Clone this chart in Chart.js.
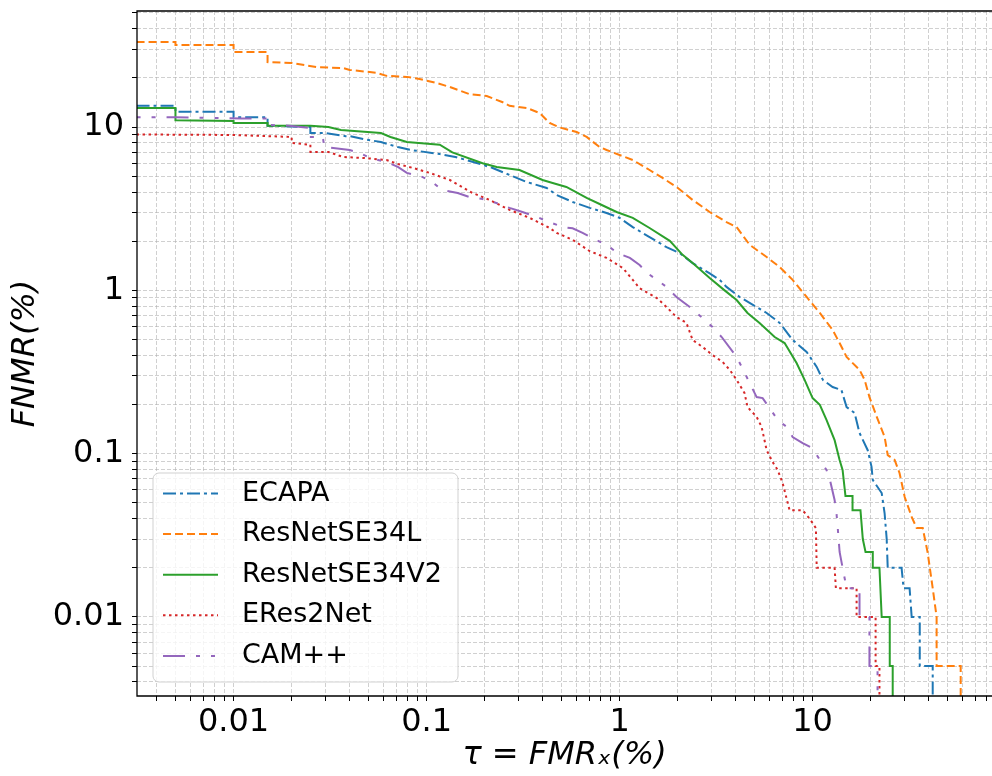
<!DOCTYPE html>
<html>
<head>
<meta charset="utf-8">
<script src="https://cdn.jsdelivr.net/npm/chart.js@4.4.0/dist/chart.umd.min.js"></script>
<style>
  html, body { margin: 0; padding: 0; background: #fff; }
  #wrap { width: 992px; height: 776px; }
</style>
</head>
<body>
<div id="wrap"><canvas id="det" width="992" height="776"></canvas></div>
<script>
// =================================================================
// DATA (FMR %, FNMR %)
// =================================================================
const seriesNames = ['ECAPA', 'ResNetSE34L', 'ResNetSE34V2', 'ERes2Net', 'CAM++'];

const ecapa = [[0.001,13.5],[0.005,13.5],[0.005,12.4],[0.01,12.4],[0.01,11.5],[0.015,11.5],[0.015,10.2],[0.025,10.0],[0.025,9.2],[0.030,9.2],[0.038,8.8],[0.040,8.8],[0.047,8.45],[0.058,8.1],[0.071,7.55],[0.083,7.24],[0.117,6.84],[0.141,6.56],[0.182,6.03],[0.22,5.62],[0.269,5.09],[0.33,4.61],[0.419,4.24],[0.472,3.84],[0.571,3.48],[0.70,3.20],[0.856,2.98],[1.0,2.78],[1.17,2.44],[1.43,2.12],[1.75,1.84],[2.05,1.69],[2.39,1.47],[2.93,1.27],[3.30,1.16],[3.58,1.05],[4.19,0.911],[5.78,0.727],[6.75,0.632],[7.88,0.497],[9.31,0.42],[10.5,0.34],[11.3,0.283],[12.7,0.256],[14.1,0.2455],[15.0,0.193],[16.5,0.1775],[17.5,0.134],[19.3,0.105],[20.2,0.083],[20.5,0.069],[22.8,0.0574],[23.6,0.0433],[24.2,0.03],[24.5,0.02],[28.9,0.02],[29.6,0.015],[31.8,0.015],[32.6,0.01],[35.9,0.01],[35.9,0.005],[41.9,0.005],[41.9,0.001]];

const resnetL = [[0.001,33.2],[0.005,33.2],[0.005,31.8],[0.01,31.8],[0.01,28.8],[0.015,28.8],[0.015,25.0],[0.020,24.7],[0.027,23.3],[0.037,23.0],[0.040,22.4],[0.055,21.5],[0.062,20.6],[0.079,20.3],[0.092,19.7],[0.113,18.6],[0.132,17.6],[0.167,15.9],[0.205,15.5],[0.248,14.2],[0.269,13.5],[0.330,13.1],[0.385,12.2],[0.434,10.6],[0.489,9.95],[0.599,9.33],[0.675,8.70],[0.788,7.55],[0.856,7.24],[1.0,6.75],[1.17,6.29],[1.43,5.46],[1.67,4.88],[1.97,4.30],[2.39,3.58],[2.93,3.02],[3.58,2.62],[4.04,2.44],[4.72,1.90],[5.78,1.60],[6.75,1.39],[7.88,1.16],[9.31,0.911],[10.9,0.727],[12.7,0.572],[13.8,0.476],[15.0,0.391],[17.5,0.326],[18.6,0.283],[19.7,0.222],[21.5,0.168],[23.6,0.127],[24.5,0.098],[26.6,0.0915],[28.2,0.0762],[30.0,0.0543],[32.6,0.041],[34.6,0.035],[37.2,0.035],[39.4,0.025],[41.9,0.015],[43.9,0.01],[43.9,0.005],[58.5,0.005],[58.5,0.001]];

const resnetV2 = [[0.001,13.1],[0.005,13.1],[0.005,11.0],[0.01,10.9],[0.01,10.6],[0.015,10.6],[0.015,10.2],[0.025,10.2],[0.031,10.0],[0.036,9.6],[0.058,9.2],[0.065,8.7],[0.079,8.1],[0.117,7.8],[0.136,7.0],[0.195,6.0],[0.231,5.7],[0.303,5.46],[0.399,4.74],[0.45,4.55],[0.53,4.30],[0.675,3.68],[0.788,3.38],[0.965,3.02],[1.17,2.78],[1.43,2.41],[1.82,2.01],[2.12,1.65],[2.39,1.47],[2.93,1.19],[3.50,1.0],[4.04,0.873],[4.6,0.727],[5.31,0.632],[6.36,0.518],[7.16,0.476],[8.26,0.359],[9.09,0.283],[10.0,0.219],[10.9,0.199],[11.8,0.161],[13.0,0.121],[13.8,0.0915],[14.3,0.0795],[14.8,0.055],[16.1,0.055],[16.1,0.045],[17.7,0.045],[18.2,0.03],[18.8,0.025],[20.5,0.025],[20.5,0.02],[22.2,0.02],[22.8,0.01],[25.1,0.01],[25.1,0.005],[26.0,0.005],[26.0,0.001]];

const eres2net = [[0.001,9.07],[0.01,8.95],[0.02,8.7],[0.02,8.0],[0.025,7.8],[0.025,7.04],[0.031,7.04],[0.037,6.56],[0.047,6.47],[0.062,6.29],[0.071,5.94],[0.085,5.62],[0.104,5.24],[0.132,4.74],[0.173,3.95],[0.212,3.58],[0.269,3.11],[0.342,2.78],[0.434,2.41],[0.472,2.25],[0.571,2.04],[0.70,1.74],[0.856,1.58],[1.04,1.37],[1.17,1.16],[1.27,1.03],[1.56,0.898],[1.75,0.791],[1.97,0.687],[2.22,0.632],[2.39,0.497],[2.69,0.45],[3.03,0.402],[3.42,0.364],[3.72,0.326],[4.04,0.283],[4.44,0.235],[4.6,0.193],[5.13,0.168],[5.44,0.146],[5.78,0.105],[6.2,0.089],[6.59,0.0795],[6.99,0.0662],[7.6,0.045],[8.88,0.045],[9.65,0.04],[10.4,0.035],[10.5,0.02],[13.0,0.02],[13.2,0.015],[16.9,0.015],[16.9,0.01],[21.2,0.01],[21.2,0.005],[22.2,0.005],[22.2,0.001]];

const campp = [[0.001,11.5],[0.005,11.5],[0.011,11.3],[0.015,11.3],[0.015,10.3],[0.0195,10.2],[0.0248,9.87],[0.0248,8.7],[0.029,8.7],[0.0295,7.55],[0.040,7.24],[0.045,6.94],[0.051,6.47],[0.062,6.11],[0.071,5.70],[0.079,5.24],[0.095,4.95],[0.107,4.61],[0.12,4.12],[0.145,3.95],[0.167,3.73],[0.195,3.63],[0.23,3.43],[0.269,3.20],[0.314,3.02],[0.372,2.82],[0.419,2.66],[0.507,2.44],[0.571,2.40],[0.643,2.25],[0.76,2.03],[0.856,1.90],[0.976,1.69],[1.13,1.58],[1.27,1.43],[1.40,1.27],[1.56,1.16],[1.75,1.05],[1.97,0.911],[2.31,0.791],[2.51,0.727],[3.03,0.597],[3.38,0.518],[4.04,0.391],[4.29,0.34],[4.72,0.271],[5.13,0.222],[5.51,0.219],[5.99,0.19],[6.59,0.161],[7.33,0.146],[7.88,0.1265],[8.88,0.116],[10.0,0.108],[10.9,0.0915],[11.8,0.0795],[12.3,0.069],[13.0,0.052],[13.3,0.043],[13.5,0.035],[13.8,0.025],[14.3,0.02],[15.0,0.015],[17.5,0.015],[17.5,0.01],[19.7,0.01],[19.7,0.005],[21.7,0.005],[21.7,0.001]];

const allSeries = [ecapa, resnetL, resnetV2, eres2net, campp];

// axis ranges and labelled ticks
const xRange = [0.00316, 85];
const yRange = [0.00328, 51.4];
const xTickValues = [0.01, 0.1, 1, 10];
const xTickLabels = ['0.01', '0.1', '1', '10'];
const yTickValues = [0.01, 0.1, 1, 10];
const yTickLabels = ['0.01', '0.1', '1', '10'];

// =================================================================
// STYLE
// =================================================================
const seriesColors = ['#1f77b4', '#ff7f0e', '#2ca02c', '#d62728', '#9467bd'];
const seriesDashes = [[13, 4, 3, 4], [8, 4], [], [2.5, 3.5], [22, 11, 4, 11, 4, 11]];
const FONT = '"DejaVu Sans", "Liberation Sans", sans-serif';

// minor + major grid positions (1..9 x 10^k)
function logGrid(range) {
  const vals = [];
  for (let e = -4; e <= 2; e++) {
    for (let m = 1; m <= 9; m++) {
      const v = +(m * Math.pow(10, e)).toPrecision(3);
      if (v > range[0] && v < range[1]) vals.push(v);
    }
  }
  return vals;
}

function labelFor(values, labels) {
  return (v) => {
    const i = values.findIndex(t => Math.abs(t - v) / t < 1e-6);
    return i >= 0 ? labels[i] : '';
  };
}

// frame (top/left/bottom spines)
const framePlugin = {
  id: 'frame',
  afterDatasetsDraw(chart) {
    const { ctx, chartArea: a } = chart;
    ctx.save();
    ctx.strokeStyle = '#000';
    ctx.lineWidth = 1.3;
    ctx.setLineDash([]);
    ctx.beginPath();
    ctx.moveTo(a.right + 2, a.top);
    ctx.lineTo(a.left, a.top);
    ctx.lineTo(a.left, a.bottom);
    ctx.lineTo(a.right + 2, a.bottom);
    ctx.stroke();
    ctx.restore();
  }
};

// matplotlib-like legend box, lower left
const legendPlugin = {
  id: 'boxLegend',
  afterDraw(chart) {
    const ctx = chart.ctx;
    const x0 = 153, y0 = 473, w = 305, h = 209, r = 6, rowH = 40.6;
    ctx.save();
    ctx.beginPath();
    ctx.moveTo(x0 + r, y0);
    ctx.arcTo(x0 + w, y0, x0 + w, y0 + h, r);
    ctx.arcTo(x0 + w, y0 + h, x0, y0 + h, r);
    ctx.arcTo(x0, y0 + h, x0, y0, r);
    ctx.arcTo(x0, y0, x0 + w, y0, r);
    ctx.closePath();
    ctx.fillStyle = 'rgba(255,255,255,0.8)';
    ctx.fill();
    ctx.strokeStyle = 'rgba(204,204,204,0.9)';
    ctx.lineWidth = 1;
    ctx.stroke();

    chart.data.datasets.forEach((ds, i) => {
      const y = y0 + 20.5 + i * rowH;
      ctx.strokeStyle = ds.borderColor;
      ctx.lineWidth = ds.borderWidth;
      ctx.setLineDash(ds.borderDash || []);
      ctx.beginPath();
      ctx.moveTo(x0 + 10, y);
      ctx.lineTo(x0 + 65, y);
      ctx.stroke();
      ctx.setLineDash([]);
      ctx.fillStyle = '#000';
      ctx.font = '27px ' + FONT;
      ctx.textBaseline = 'middle';
      ctx.textAlign = 'left';
      ctx.fillText(ds.label, x0 + 89, y);
    });
    ctx.restore();
  }
};

const datasets = allSeries.map((pts, i) => ({
  label: seriesNames[i],
  data: pts.map(p => ({ x: p[0], y: p[1] })),
  borderColor: seriesColors[i],
  backgroundColor: seriesColors[i],
  borderDash: seriesDashes[i],
  borderWidth: 2,
  pointRadius: 0,
  tension: 0,
  fill: false,
  order: allSeries.length - i
}));

const gridStyle = {
  color: 'rgba(176,176,176,0.6)',
  lineWidth: 1,
  tickColor: '#000',
  tickLength: 5,
  tickWidth: 1,
  tickBorderDash: []
};

new Chart(document.getElementById('det'), {
  type: 'line',
  data: { datasets },
  plugins: [framePlugin, legendPlugin],
  options: {
    responsive: false,
    animation: false,
    events: [],
    layout: { padding: { top: 11, right: 0, left: 0, bottom: 0 } },
    plugins: { legend: { display: false }, tooltip: { enabled: false } },
    scales: {
      x: {
        type: 'logarithmic',
        position: 'bottom',
        min: xRange[0],
        max: xRange[1],
        bounds: 'data',
        grid: gridStyle,
        border: { display: false, dash: [4, 2] },
        ticks: {
          autoSkip: false,
          maxRotation: 0,
          padding: 2,
          color: '#000',
          font: { family: FONT, size: 32 },
          callback: labelFor(xTickValues, xTickLabels)
        },
        afterBuildTicks: (s) => { s.ticks = logGrid(xRange).map(v => ({ value: v })); },
        afterFit: (s) => { s.height = 80; s.paddingLeft = 0; s.paddingRight = 0; },
        title: {
          display: true,
          text: 'τ = FMRₓ(%)',
          color: '#000',
          font: { family: FONT, size: 32, style: 'italic' },
          padding: { top: 0, bottom: 1 }
        }
      },
      y: {
        type: 'logarithmic',
        position: 'left',
        min: yRange[0],
        max: yRange[1],
        bounds: 'data',
        grid: gridStyle,
        border: { display: false, dash: [4, 2] },
        ticks: {
          autoSkip: false,
          padding: 8,
          color: '#000',
          font: { family: FONT, size: 32 },
          callback: labelFor(yTickValues, yTickLabels)
        },
        afterBuildTicks: (s) => { s.ticks = logGrid(yRange).map(v => ({ value: v })); },
        afterFit: (s) => { s.width = 137; s.paddingTop = 0; s.paddingBottom = 0; },
        title: {
          display: true,
          text: 'FNMR(%)',
          color: '#000',
          font: { family: FONT, size: 32, style: 'italic' },
          padding: { top: 6, bottom: 0 }
        }
      }
    }
  }
});
</script>
</body>
</html>
